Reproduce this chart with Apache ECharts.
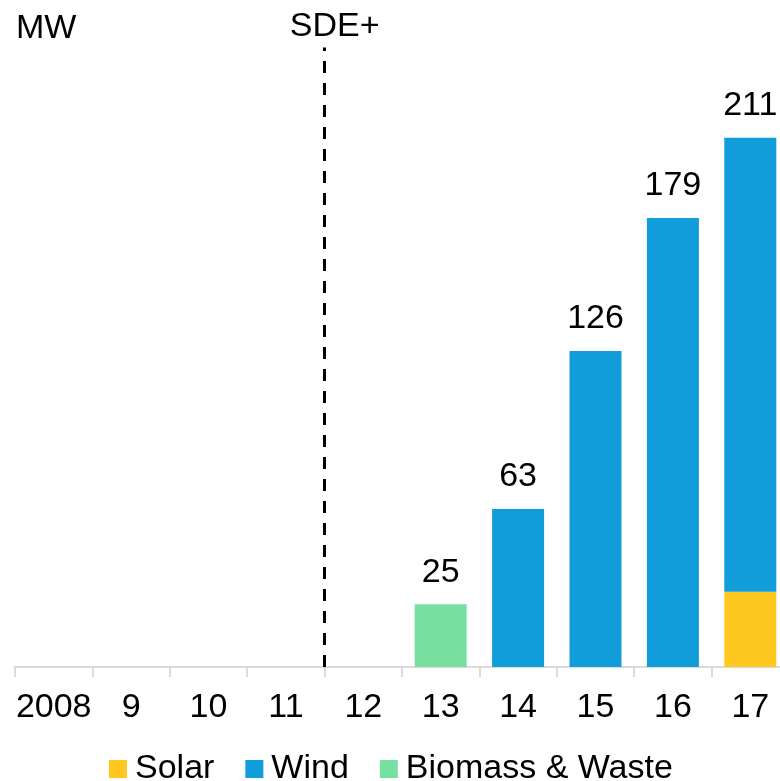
<!DOCTYPE html>
<html>
<head>
<meta charset="utf-8">
<script src="https://cdn.jsdelivr.net/npm/echarts@6/dist/echarts.min.js"></script>
<style>
  html, body { margin: 0; padding: 0; background: #fff; }
  #chart { width: 780px; height: 781px; }
</style>
</head>
<body>
<div id="chart"></div>
<script>
// data
var years = ['2008', '9', '10', '11', '12', '13', '14', '15', '16', '17']
var solar = [null, null, null, null, null, null, null, null, null, 30]
var wind = [null, null, null, null, null, null, 63, 126, 179, 181]
var biomass = [null, null, null, null, null, 25, null, null, null, null]
var sdeStart = 3.5 // between 11 and 12

var totals = years.map(function(y, i) {
  var s = (solar[i] || 0) + (wind[i] || 0) + (biomass[i] || 0)
  return s > 0 ? s : null
})

var font = 'Liberation Sans, Arial, sans-serif'
var fs = 34
var chart = echarts.init(document.getElementById('chart'))

chart.setOption({
  animation: false,
  textStyle: { fontFamily: font },
  title: {
    text: 'MW',
    left: 11,
    top: 7,
    textStyle: { fontSize: fs, fontWeight: 'normal', color: '#000', fontFamily: font }
  },
  legend: {
    data: ['Solar', 'Wind', 'Biomass & Waste'],
    left: 109,
    top: 752,
    padding: 0,
    icon: 'rect',
    itemWidth: 18,
    itemHeight: 18,
    itemGap: 31,
    textStyle: { fontSize: fs, color: '#000', fontFamily: font, padding: [0, 0, 0, 3] }
  },
  grid: { left: 15, width: 774, top: 40, bottom: 114, outerBoundsMode: 'none' },
  xAxis: [
    {
      type: 'category',
      data: years,
      axisLine: { lineStyle: { color: '#d0d0d0', width: 1.5 } },
      axisTick: { show: true, length: 10, lineStyle: { color: '#d0d0d0', width: 1.5 } },
      axisLabel: { fontSize: fs, color: '#000', margin: 24, fontFamily: font, interval: 0 }
    },
    {
      type: 'value',
      min: -0.5,
      max: 9.5,
      show: false
    }
  ],
  yAxis: {
    type: 'value',
    min: 0,
    max: 250,
    show: false
  },
  series: [
    {
      name: 'Solar',
      type: 'bar',
      stack: 'mw',
      barWidth: 52,
      itemStyle: { color: '#FFC821' },
      data: solar
    },
    {
      name: 'Wind',
      type: 'bar',
      stack: 'mw',
      barWidth: 52,
      itemStyle: { color: '#119DDA' },
      data: wind
    },
    {
      name: 'Biomass & Waste',
      type: 'bar',
      stack: 'mw',
      barWidth: 52,
      itemStyle: { color: '#77E0A0' },
      data: biomass
    },
    {
      name: 'Total',
      type: 'scatter',
      symbolSize: 0,
      silent: true,
      itemStyle: { opacity: 1 },
      data: totals,
      label: {
        show: true,
        position: 'top',
        distance: 15,
        fontSize: fs,
        color: '#000',
        fontFamily: font
      }
    },
    {
      name: 'SDE',
      type: 'line',
      xAxisIndex: 1,
      data: [],
      markLine: {
        silent: true,
        symbol: 'none',
        lineStyle: { color: '#000', width: 3, type: [12, 10] },
        label: {
          show: true,
          position: 'end',
          formatter: 'SDE+',
          fontSize: fs,
          color: '#000',
          fontFamily: font,
          distance: 4,
          padding: [0, 0, 0, 20]
        },
        data: [[{ coord: [sdeStart, 0] }, { coord: [sdeStart, 247] }]]
      }
    }
  ]
})
</script>
</body>
</html>
